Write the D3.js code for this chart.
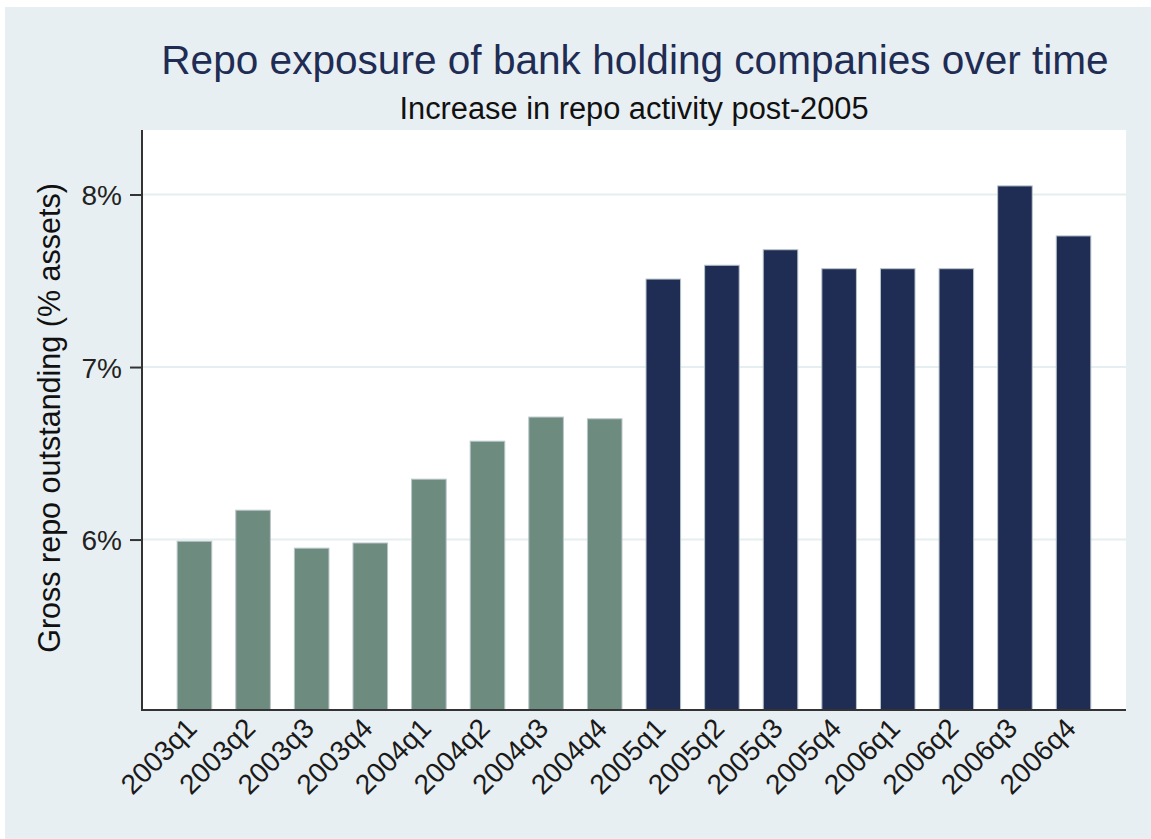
<!DOCTYPE html>
<html lang="en">
<head>
    <meta charset="UTF-8">
    <title>Repo exposure of bank holding companies over time</title>
    <script src="https://d3js.org/d3.v7.min.js"></script>
    <style>
        body {
            margin: 0;
            background: #fff;
            font-family: 'Liberation Sans', Arial, sans-serif;
        }
        svg { display: block; }
        .tick-y text { font-size: 28px; fill: #222; }
        .tick-x text { font-size: 28px; fill: #1a1a1a; }
    </style>
</head>
<body>
    <div id="chart"></div>

    <script>
        // data
        const quarters = ["2003q1", "2003q2", "2003q3", "2003q4",
                          "2004q1", "2004q2", "2004q3", "2004q4",
                          "2005q1", "2005q2", "2005q3", "2005q4",
                          "2006q1", "2006q2", "2006q3", "2006q4"];
        const repoShare = [5.99, 6.17, 5.95, 5.98,
                           6.35, 6.57, 6.71, 6.70,
                           7.51, 7.59, 7.68, 7.57,
                           7.57, 7.57, 8.05, 7.76];
        const postPeriodStart = "2005q1";
        const yTicks = [6, 7, 8];

        const W = 1151, H = 839;
        const plot = { left: 142, right: 1126, top: 130, bottom: 710 };

        const svg = d3.select("#chart").append("svg")
            .attr("width", W)
            .attr("height", H);

        // outer background (white edge at top/left like the export)
        svg.append("rect")
            .attr("x", 5).attr("y", 7)
            .attr("width", W - 5).attr("height", H - 7)
            .attr("fill", "#e8eff2");

        svg.append("rect")
            .attr("x", plot.left).attr("y", plot.top)
            .attr("width", plot.right - plot.left)
            .attr("height", plot.bottom - plot.top)
            .attr("fill", "#fff");

        const x = d3.scaleBand()
            .domain(quarters)
            .range([plot.left, plot.right])
            .paddingInner(0.41)
            .paddingOuter(0.6);

        const y = d3.scaleLinear()
            .domain([5.012, 8.374])
            .range([plot.bottom, plot.top]);

        // gridlines
        svg.append("g")
            .selectAll("line")
            .data(yTicks)
            .join("line")
            .attr("x1", plot.left).attr("x2", plot.right)
            .attr("y1", d => y(d)).attr("y2", d => y(d))
            .attr("stroke", "#e5eef0")
            .attr("stroke-width", 2);

        // bars
        const postIdx = quarters.indexOf(postPeriodStart);
        svg.append("g")
            .selectAll("rect")
            .data(quarters.map((q, i) => ({ q, v: repoShare[i], post: i >= postIdx })))
            .join("rect")
            .attr("x", d => x(d.q))
            .attr("y", d => y(d.v))
            .attr("width", x.bandwidth())
            .attr("height", d => y.range()[0] - y(d.v))
            .attr("fill", d => d.post ? "#1f2c53" : "#6e8b80")
            .attr("stroke", "#b9c4c9")
            .attr("stroke-width", 1);

        // y axis
        const yAxis = svg.append("g")
            .attr("class", "tick-y")
            .attr("transform", `translate(${plot.left},0)`)
            .call(d3.axisLeft(y)
                .tickValues(yTicks)
                .tickFormat(d => d + "%")
                .tickSize(12)
                .tickPadding(8));
        yAxis.select(".domain").remove();
        yAxis.selectAll(".tick line").attr("stroke", "#333").attr("stroke-width", 2);
        yAxis.selectAll("text").attr("dy", "0.36em");

        // x axis labels
        const xAxis = svg.append("g")
            .attr("class", "tick-x")
            .attr("transform", `translate(0,${plot.bottom})`)
            .call(d3.axisBottom(x).tickSize(0).tickPadding(0));
        xAxis.select(".domain").remove();
        xAxis.selectAll("text")
            .attr("y", 0).attr("dy", 0)
            .attr("text-anchor", "end")
            .attr("transform", "translate(4,20) rotate(-45)");

        // axis lines
        svg.append("line")
            .attr("x1", plot.left).attr("x2", plot.left)
            .attr("y1", plot.top).attr("y2", plot.bottom + 1)
            .attr("stroke", "#333").attr("stroke-width", 2);
        svg.append("line")
            .attr("x1", plot.left - 1).attr("x2", plot.right)
            .attr("y1", plot.bottom).attr("y2", plot.bottom)
            .attr("stroke", "#333").attr("stroke-width", 2);

        // titles
        const cx = (plot.left + plot.right) / 2;
        svg.append("text")
            .attr("x", cx + 1).attr("y", 74)
            .attr("text-anchor", "middle")
            .attr("font-size", 40.6)
            .attr("fill", "#1f2c53")
            .text("Repo exposure of bank holding companies over time");

        svg.append("text")
            .attr("x", cx).attr("y", 119)
            .attr("text-anchor", "middle")
            .attr("font-size", 30.8)
            .attr("fill", "#111")
            .text("Increase in repo activity post-2005");

        svg.append("text")
            .attr("transform", "translate(60,418) rotate(-90)")
            .attr("text-anchor", "middle")
            .attr("font-size", 30.5)
            .attr("fill", "#111")
            .text("Gross repo outstanding (% assets)");
    </script>
</body>
</html>
